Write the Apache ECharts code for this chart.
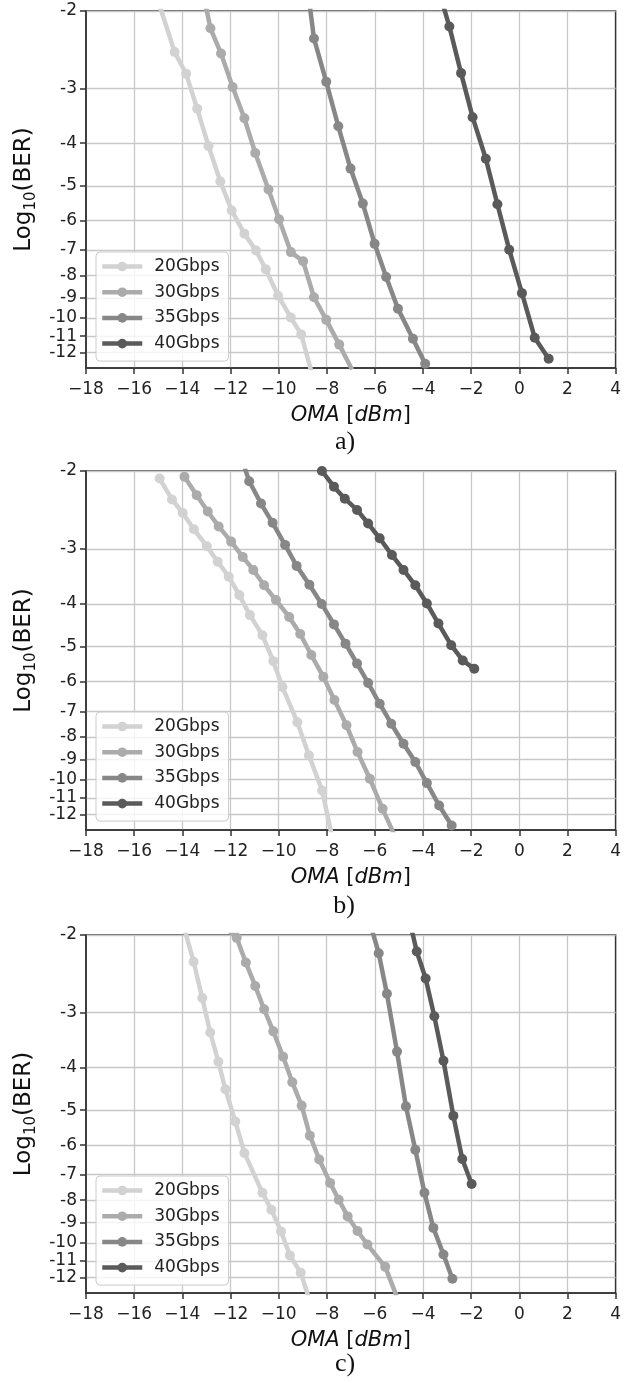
<!DOCTYPE html>
<html>
<head>
<meta charset="utf-8">
<script src="https://cdn.jsdelivr.net/npm/echarts@6/dist/echarts.min.js"></script>
<style>
  html, body { margin: 0; padding: 0; background: #ffffff; }
  #chart { width: 624px; height: 1383px; }
</style>
</head>
<body>
<div id="chart"></div>
<script>
// Series names, grey levels and axis ticks
const seriesNames = ['20Gbps', '30Gbps', '35Gbps', '40Gbps'];
const seriesColors = ['#d2d2d2', '#ababab', '#878787', '#5a5a5a'];
const xMin = -18, xMax = 4, xStep = 2;
const yTickValues = [-2, -3, -4, -5, -6, -7, -8, -9, -10, -11, -12];
const yTop = -2, yBottom = -13;
const panelLabels = ['a)', 'b)', 'c)'];

// Measured curves: [OMA (dBm), log10(BER)]
// Panel a)
const a20 = [[-15.0,-1.9],[-14.32,-2.48],[-13.84,-2.78],[-13.38,-3.34],[-12.91,-4.06],[-12.42,-4.89],[-11.95,-5.69],[-11.42,-6.43],[-10.94,-7.02],[-10.53,-7.75],[-10.02,-8.9],[-9.49,-9.98],[-9.06,-10.9],[-8.55,-13.8]];
const a30 = [[-13.3,-1.65],[-12.83,-2.19],[-12.39,-2.50],[-11.91,-2.98],[-11.42,-3.51],[-10.97,-4.21],[-10.42,-5.10],[-9.98,-5.96],[-9.49,-7.08],[-8.98,-7.43],[-8.53,-8.97],[-8.02,-10.1],[-7.48,-11.5],[-6.95,-13.1]];
const a35 = [[-9.0,-1.45],[-8.53,-2.31],[-8.02,-2.90],[-7.52,-3.66],[-7.01,-4.57],[-6.50,-5.49],[-6.01,-6.78],[-5.53,-8.07],[-5.04,-9.53],[-4.42,-11.15],[-3.91,-12.71]];
const a40 = [[-3.3,-1.83],[-2.905,-2.17],[-2.42,-2.77],[-1.94,-3.49],[-1.39,-4.34],[-0.91,-5.51],[-0.42,-6.99],[0.11,-8.78],[0.64,-11.09],[1.22,-12.39]];
// Panel b)
const b20 = [[-14.94,-2.08],[-14.43,-2.32],[-13.98,-2.49],[-13.52,-2.71],[-12.98,-2.96],[-12.53,-3.21],[-12.07,-3.47],[-11.63,-3.82],[-11.19,-4.24],[-10.67,-4.71],[-10.22,-5.39],[-9.84,-6.17],[-9.22,-7.41],[-8.74,-8.81],[-8.19,-10.58],[-7.7,-14.1]];
const b30 = [[-13.91,-2.06],[-13.40,-2.27],[-12.94,-2.47],[-12.49,-2.67],[-11.97,-2.89],[-11.49,-3.13],[-11.05,-3.35],[-10.60,-3.63],[-10.11,-3.92],[-9.56,-4.28],[-9.10,-4.68],[-8.64,-5.22],[-8.14,-5.85],[-7.68,-6.60],[-7.18,-7.53],[-6.72,-8.66],[-6.21,-9.95],[-5.68,-11.64],[-5.2,-13.3]];
const b35 = [[-11.7,-1.76],[-11.22,-2.11],[-10.73,-2.37],[-10.25,-2.62],[-9.73,-2.94],[-9.25,-3.28],[-8.72,-3.62],[-8.21,-4.00],[-7.70,-4.45],[-7.22,-4.92],[-6.74,-5.46],[-6.28,-6.04],[-5.80,-6.73],[-5.32,-7.47],[-4.81,-8.29],[-4.32,-9.12],[-3.84,-10.18],[-3.33,-11.44],[-2.81,-12.70]];
const b40 = [[-8.2,-2.0],[-7.70,-2.17],[-7.25,-2.31],[-6.74,-2.45],[-6.28,-2.63],[-5.80,-2.84],[-5.29,-3.10],[-4.81,-3.35],[-4.32,-3.63],[-3.84,-3.99],[-3.36,-4.43],[-2.83,-4.96],[-2.35,-5.37],[-1.87,-5.61]];
// Panel c)
const c20 = [[-14.0,-1.86],[-13.53,-2.30],[-13.17,-2.78],[-12.84,-3.33],[-12.50,-3.88],[-12.21,-4.48],[-11.80,-5.30],[-11.42,-6.25],[-10.67,-7.70],[-10.30,-8.41],[-9.90,-9.42],[-9.53,-10.68],[-9.08,-11.70],[-8.6,-14.1]];
const c30 = [[-12.3,-1.9],[-11.74,-2.03],[-11.36,-2.31],[-10.97,-2.61],[-10.60,-2.95],[-10.22,-3.31],[-9.81,-3.78],[-9.43,-4.32],[-9.04,-4.88],[-8.70,-5.71],[-8.31,-6.47],[-7.86,-7.31],[-7.50,-7.98],[-7.13,-8.71],[-6.72,-9.40],[-6.31,-10.09],[-5.57,-11.34],[-5.1,-13.2]];
const c35 = [[-6.2,-1.88],[-5.84,-2.20],[-5.50,-2.72],[-5.08,-3.68],[-4.71,-4.90],[-4.32,-6.15],[-3.94,-7.70],[-3.57,-9.25],[-3.15,-10.63],[-2.78,-12.07]];
const c40 = [[-4.7,-1.72],[-4.26,-2.18],[-3.89,-2.51],[-3.53,-3.06],[-3.15,-3.86],[-2.74,-5.15],[-2.37,-6.45],[-1.98,-7.35]];

const panels = [[a20, a30, a35, a40], [b20, b30, b35, b40], [c20, c30, c35, c40]];

// Page layout of the three stacked plots
const gridLeft = 86, gridRight = 6;
const gridTops = [11, 471, 935];
const gridHeights = [357, 359, 358];
const labelPos = [[345, 442], [344, 906], [345, 1364]];

// The vertical axis is log(-log10 BER): values are mapped onto it here
const toAxis = v => Math.log10(-v);

const spine = { color: '#333333', width: 1.5 };
const gridLine = { color: '#c8c8c8', width: 1.3 };
const font = 'DejaVu Sans';

const grids = gridTops.map((t, i) => ({
  left: gridLeft, right: gridRight, top: t, height: gridHeights[i],
  show: true, borderColor: '#333333', borderWidth: 1.5, backgroundColor: 'transparent'
}));

const xAxes = gridTops.map((t, i) => ({
  type: 'value', gridIndex: i, min: xMin, max: xMax, interval: xStep,
  axisLine: { show: true, onZero: false, lineStyle: spine },
  axisTick: { show: true, inside: false, length: 6, lineStyle: spine },
  axisLabel: {
    fontSize: 17, color: '#222222', fontFamily: font, margin: 13,
    showMinLabel: true, showMaxLabel: true,
    formatter: v => (v < 0 ? '\u2212' + Math.abs(v) : String(v))
  },
  splitLine: { show: true, showMinLine: false, showMaxLine: false, lineStyle: gridLine },
  name: '{i|OMA} [{i|dBm}]',
  nameLocation: 'middle', nameGap: 37,
  nameTextStyle: {
    fontSize: 21, color: '#111111', fontFamily: font,
    rich: { i: { fontSize: 21, fontStyle: 'italic', color: '#111111', fontFamily: font } }
  }
}));

// Ticks and grid lines at -2 ... -12; the label list also carries the
// unlabelled bottom end so that -11 and -12 are both kept.
const yTickPos = yTickValues.map(toAxis);
const yLabelPos = yTickValues.concat([yBottom]).map(toAxis);
const yAxes = gridTops.map((t, i) => ({
  type: 'value', gridIndex: i, inverse: true,
  min: toAxis(yTop), max: toAxis(yBottom),
  axisLine: { show: true, onZero: false, lineStyle: spine },
  axisTick: { show: true, inside: false, length: 6, lineStyle: spine, customValues: yTickPos },
  axisLabel: {
    fontSize: 17, lineHeight: 14, color: '#222222', fontFamily: font, margin: 9,
    customValues: yLabelPos, showMinLabel: true, showMaxLabel: false, hideOverlap: false,
    formatter: v => '-' + Math.round(Math.pow(10, v))
  },
  splitLine: { show: true, lineStyle: gridLine },
  name: 'Log{s|10}(BER)',
  nameLocation: 'middle', nameGap: 46,
  nameTextStyle: {
    fontSize: 23, color: '#111111', fontFamily: font,
    rich: { s: { fontSize: 15, color: '#111111', fontFamily: font, verticalAlign: 'bottom', padding: [14, 0, 0, 0] } }
  }
}));

const series = [];
panels.forEach((curves, p) => {
  curves.forEach((pts, k) => {
    series.push({
      type: 'line', name: seriesNames[k],
      xAxisIndex: p, yAxisIndex: p,
      data: pts.map(d => [d[0], toAxis(d[1])]),
      symbol: 'circle', symbolSize: 10, showSymbol: true, showAllSymbol: true,
      clip: true, silent: true,
      color: seriesColors[k],
      lineStyle: { width: 4.5, color: seriesColors[k] },
      itemStyle: { color: seriesColors[k] }
    });
  });
});

const legends = gridTops.map(t => ({
  orient: 'vertical', left: 96, top: t + 241,
  data: seriesNames, selectedMode: false,
  itemWidth: 40, itemHeight: 12, itemGap: 8.7,
  padding: [6, 9, 9, 4],
  backgroundColor: 'rgba(255,255,255,0.8)', borderColor: '#cccccc', borderWidth: 1, borderRadius: 4,
  lineStyle: { width: 4.5 },
  textStyle: { fontSize: 17, color: '#222222', fontFamily: font, lineHeight: 17, padding: [0, 0, 0, 7] }
}));

const captions = panelLabels.map((txt, i) => ({
  type: 'text', x: labelPos[i][0], y: labelPos[i][1],
  style: { text: txt, fontSize: 26, fontFamily: 'Liberation Serif', fill: '#111111', align: 'center', verticalAlign: 'middle' }
}));

const chart = echarts.init(document.getElementById('chart'), null, { renderer: 'canvas' });
chart.setOption({
  animation: false,
  backgroundColor: '#ffffff',
  grid: grids,
  xAxis: xAxes,
  yAxis: yAxes,
  legend: legends,
  series: series,
  graphic: captions
});
</script>
</body>
</html>
